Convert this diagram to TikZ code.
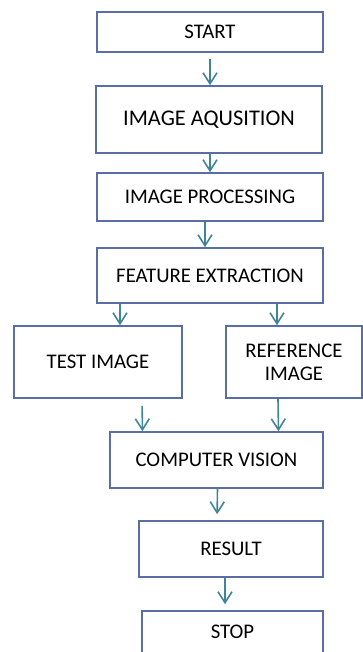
\documentclass[tikz,border=0pt]{standalone}
\usepackage{fontspec}
\setmainfont{Carlito}
\usetikzlibrary{positioning,arrows.meta,calc}
\definecolor{boxline}{HTML}{5A6EA6}
\definecolor{flowteal}{HTML}{3F8596}

\begin{document}
\begin{tikzpicture}[
    x=0.5pt, y=-0.5pt,
    stepBox/.style={rectangle, draw=boxline, line width=0.8pt, fill=white, font=\fontsize{10.4}{11.5}\selectfont, align=center, inner sep=2pt},
    arrowStyle/.style={-{Straight Barb[length=5.5pt, width=7pt]}, line width=0.8pt, draw=flowteal}
]
    \useasboundingbox (0,0) rectangle (363,652);

    \node[stepBox, minimum width=113pt, minimum height=20pt] (start) at (210, 32) {START};
    \node[stepBox, minimum width=113pt, minimum height=33.5pt, font=\fontsize{11.2}{12}\selectfont] (acq) at (209, 119.5) {IMAGE AQUSITION};
    \node[stepBox, minimum width=113pt, minimum height=24pt] (proc) at (210, 197) {IMAGE PROCESSING};
    \node[stepBox, minimum width=113pt, minimum height=27.5pt] (feat) at (210, 275.5) {FEATURE EXTRACTION};
    \node[stepBox, minimum width=84pt, minimum height=36pt] (test) at (98, 362) {TEST IMAGE};
    \node[stepBox, minimum width=68pt, minimum height=36pt] (ref) at (294, 362) {REFERENCE\\IMAGE};
    \node[stepBox, minimum width=106.5pt, minimum height=28pt] (cv) at (216.5, 460) {COMPUTER VISION};
    \node[stepBox, minimum width=92pt, minimum height=28pt] (res) at (231, 549) {RESULT};
    \node[stepBox, minimum width=90.5pt, minimum height=21pt] (stop) at (232.5, 632) {STOP};

    \draw[arrowStyle, shorten <=3pt] (start.south) -- ([xshift=0.5pt]acq.north);
    \draw[arrowStyle] ([xshift=0.5pt]acq.south) -- (proc.north);
    \draw[arrowStyle] ([xshift=-2.5pt]proc.south) -- ([xshift=-2.5pt]feat.north);
    \draw[arrowStyle] ([xshift=-45pt]feat.south) -- ([xshift=11pt]test.north);
    \draw[arrowStyle] ([xshift=33.5pt]feat.south) -- ([xshift=-8.5pt]ref.north);
    \draw[arrowStyle, shorten <=3.5pt] ([xshift=22pt]test.south) -- ([xshift=-37pt]cv.north);
    \draw[arrowStyle] ([xshift=-8pt]ref.south) -- ([xshift=31pt]cv.north);
    \draw[arrowStyle, shorten >=3pt] ([xshift=0.5pt]cv.south) -- ([xshift=-7pt]res.north);
    \draw[arrowStyle, shorten >=3pt] ([xshift=-3pt]res.south) -- ([xshift=-3.75pt]stop.north);
\end{tikzpicture}
\end{document}
